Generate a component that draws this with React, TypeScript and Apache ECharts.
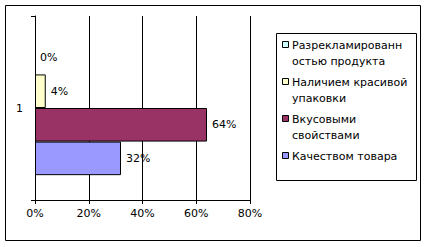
import React, { useEffect, useRef } from "react";
import * as echarts from "echarts";

const categories = ["1"];
const seriesNames = [
  "Разрекламированностью продукта",
  "Наличием красивой упаковки",
  "Вкусовыми свойствами",
  "Качеством товара",
];
const seriesValues = [0, 0.04, 0.64, 0.32];
const seriesColors = ["#CCFFFF", "#FFFFCC", "#993366", "#9999FF"];
// legend lines as wrapped in the reference
const legendLines = [
  ["Разрекламированн", "остью продукта"],
  ["Наличием красивой", "упаковки"],
  ["Вкусовыми", "свойствами"],
  ["Качеством товара"],
];
const xTicks = [0, 0.2, 0.4, 0.6, 0.8];

const FONT = "DejaVu Sans";
const FS = 11;

export default function App() {
  const ref = useRef<HTMLDivElement>(null);
  useEffect(() => {
    const chart = echarts.init(ref.current!, null, { renderer: "svg" });
    const legendGraphics: any[] = [
      {
        type: "rect",
        shape: { x: 276.5, y: 33.5, width: 140, height: 147 },
        style: { fill: "#fff", stroke: "#000", lineWidth: 1 },
      },
    ];
    let y = 45;
    seriesNames.forEach((_, si) => {
      legendGraphics.push({
        type: "rect",
        shape: { x: 282.5, y: y - 3.5, width: 6, height: 6 },
        style: { fill: seriesColors[si], stroke: "#000", lineWidth: 1 },
      });
      legendLines[si].forEach((ln, li) => {
        legendGraphics.push({
          type: "text",
          x: 292,
          y: y + li * 16,
          style: {
            text: ln,
            fill: "#000",
            font: `${FS}px '${FONT}'`,
            verticalAlign: "middle",
            align: "left",
          },
        });
      });
      y += legendLines[si].length * 16 + 5;
    });

    chart.setOption({
      animation: false,
      backgroundColor: "#fff",
      textStyle: { fontFamily: FONT },
      grid: { left: 35, top: 16, width: 215, height: 184, containLabel: false },
      xAxis: {
        type: "value",
        min: xTicks[0],
        max: xTicks[xTicks.length - 1],
        interval: 0.2,
        axisLine: { show: true, lineStyle: { color: "#000", width: 1 } },
        axisTick: { show: true, length: 4, lineStyle: { color: "#000" } },
        axisLabel: {
          color: "#000",
          fontSize: FS,
          fontFamily: FONT,
          margin: 8,
          formatter: (v: number) => Math.round(v * 100) + "%",
        },
        splitLine: { show: true, lineStyle: { color: "#000", width: 1 } },
      },
      yAxis: {
        type: "category",
        inverse: true,
        data: categories,
        axisLine: { show: true, lineStyle: { color: "#000", width: 1 } },
        axisTick: { show: true, length: 4, lineStyle: { color: "#000" } },
        axisLabel: { color: "#000", fontSize: FS, fontFamily: FONT, margin: 12 },
      },
      series: seriesNames.map((name, i) => ({
        type: "bar",
        name,
        data: [seriesValues[i]],
        barGap: "0%",
        barCategoryGap: "27%",
        itemStyle: {
          color: seriesColors[i],
          borderColor: "#000",
          borderWidth: seriesValues[i] === 0 ? 0 : 1,
        },
        label: {
          show: true,
          position: "right",
          distance: 5,
          color: "#000",
          fontSize: FS,
          fontFamily: FONT,
          formatter: (p: any) => Math.round(p.value * 100) + "%",
        },
      })),
      graphic: [
        {
          type: "rect",
          shape: { x: 5.5, y: 5.5, width: 415, height: 235 },
          style: { fill: "none", stroke: "#000", lineWidth: 1 },
          z: 100,
        },
        ...legendGraphics,
      ],
    });
    return () => chart.dispose();
  }, []);
  return (
    <div
      ref={ref}
      style={{ position: "fixed", left: 0, top: 0, width: 426, height: 247 }}
    />
  );
}
